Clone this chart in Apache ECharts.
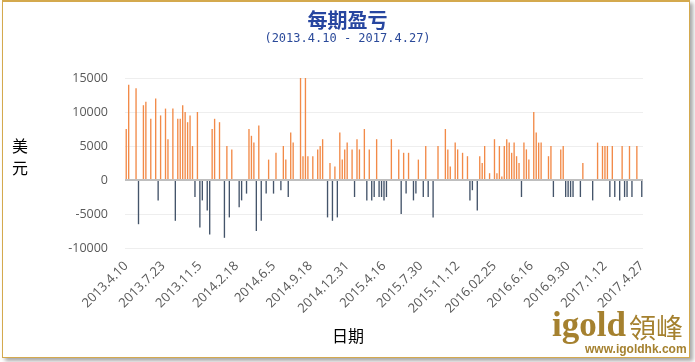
<!DOCTYPE html>
<html>
<head>
<meta charset="utf-8">
<script src="https://cdn.jsdelivr.net/npm/echarts@6/dist/echarts.min.js"></script>
<style>
html,body{margin:0;padding:0;background:#fff;}
#frame{position:absolute;left:2px;top:0;width:686px;height:355px;border:1px solid #D4A94E;border-top-width:2px;background:#fff;box-shadow:3px 3px 4px rgba(0,0,0,0.35);}
#chart{position:absolute;left:0;top:0;width:695px;height:362px;}
</style>
</head>
<body>
<div id="frame"></div>
<div id="chart"></div>
<script>
// dates shown on the category axis (one every 15 periods)
const tickDates = ['2013.4.10','2013.7.23','2013.11.5','2014.2.18','2014.6.5','2014.9.18','2014.12.31','2015.4.16','2015.7.30','2015.11.12','2016.02.25','2016.6.16','2016.9.30','2017.1.12','2017.4.27'];
const labelStep = 15;
// profit / loss per period (USD), 211 periods
const profit = [
 7500,14000,0,0,13500,-6500,0,11000,11500,0,9000,0,12000,-3000,
 9500,0,10500,6000,0,10500,-6000,9000,9000,11000,10000,8500,9500,5000,
 -2500,10000,-7000,-3000,0,-4500,-8000,7500,9000,0,8500,0,-8500,5000,
 -5500,4500,0,0,-4000,-3000,0,-2000,7500,6500,5500,-7500,8000,-6000,
 0,-2000,3000,0,-2000,4000,0,-1500,5000,3000,-2500,7000,5500,0,
 0,15000,3500,15000,3500,0,3500,0,4500,5000,6000,0,-5500,2500,
 -6000,2000,-5500,7000,3000,4500,5500,0,4500,-2500,6000,4500,0,7500,
 -3000,4500,-3000,-2500,6000,-2500,-2500,-3000,-2500,0,6000,0,0,4500,
 -5000,4000,-2000,4000,0,-3000,-2000,3000,0,-2500,5000,-2500,0,-5500,
 0,5000,0,0,7500,4500,2000,0,5500,4500,0,4000,0,3500,
 -3000,-1500,0,-4500,3500,2500,5000,0,1000,0,6000,1000,5000,500,
 5000,6000,5500,4000,5500,3500,2500,-2500,5500,4500,3000,0,10000,7000,
 5500,5500,0,0,3500,5000,-2500,0,0,4500,5000,-2500,-2500,-2500,
 -2500,0,0,-2500,2500,0,0,0,-3000,0,5500,0,5000,5000,
 5000,-2500,5000,-2500,0,-3000,5000,-2500,-2500,5000,-2500,0,5000,0,
 -2500
];
const categories = profit.map((v, i) => (i % labelStep === 0 ? (tickDates[i / labelStep] || '') : ''));

const chart = echarts.init(document.getElementById('chart'), null, {renderer: 'canvas'});
chart.setOption({
  animation: false,
  title: [
    {text: '每期盈亏', left: 'center', top: 5,
     textStyle: {fontFamily: 'Noto Sans CJK SC', fontSize: 20, fontWeight: 'bold', color: '#2746A0'}},
    {text: '(2013.4.10 - 2017.4.27)', left: 'center', top: 28,
     textStyle: {fontFamily: 'DejaVu Sans Mono', fontSize: 12, fontWeight: 'normal', color: '#2B4A9A'}}
  ],
  grid: {left: 125, right: 52, top: 78, bottom: 114, containLabel: false},
  xAxis: {
    type: 'category', data: categories,
    axisLine: {show: false, onZero: false},
    axisTick: {show: false},
    axisLabel: {interval: labelStep - 1, rotate: 45, margin: 16, color: '#595959',
      fontFamily: 'Open Sans', fontSize: 13}
  },
  yAxis: {
    type: 'value', min: -10000, max: 15000, interval: 5000,
    axisLine: {show: false}, axisTick: {show: false},
    axisLabel: {color: '#595959', fontFamily: 'Open Sans', fontSize: 12.5, margin: 17,
      formatter: (v) => String(v)},
    splitLine: {lineStyle: {color: '#EEEEEE', width: 1}}
  },
  series: [{
    type: 'bar', data: profit, barWidth: '55%',
    itemStyle: {color: (p) => (p.value >= 0 ? '#F28A48' : '#44546A')},
    markLine: {silent: true, symbol: 'none', label: {show: false},
      lineStyle: {color: '#BFBFBF', width: 2, type: 'solid'},
      data: [{yAxis: 0}]}
  }],
  graphic: [
    {type: 'text', left: 12, top: 135,
     style: {text: '美\n元', font: '16px "Noto Sans CJK SC"', lineHeight: 22, fill: '#000'}},
    {type: 'text', left: 332, top: 328,
     style: {text: '日期', font: '16px "Noto Sans CJK SC"', fill: '#000'}},
    {type: 'text', left: 552, top: 309,
     style: {text: 'igold', font: 'bold 35px "Liberation Serif"', fill: '#A5812F'}},
    {type: 'text', left: 629, top: 314,
     style: {text: '領峰', font: '27px "Noto Sans CJK TC"', fill: '#A5812F'}},
    {type: 'text', left: 585, top: 344,
     style: {text: 'www.igoldhk.com', font: 'bold 12px "Liberation Sans"', fill: '#A5812F'}}
  ]
});
</script>
</body>
</html>
